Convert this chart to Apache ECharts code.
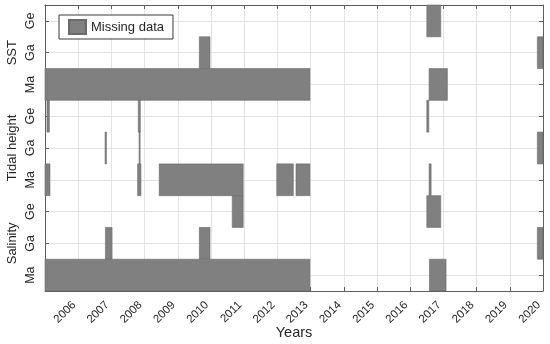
<!DOCTYPE html>
<html>
<head>
<meta charset="utf-8">
<script src="https://cdn.jsdelivr.net/npm/echarts@6/dist/echarts.min.js"></script>
<style>html,body{margin:0;padding:0;background:#fff}#c{width:550px;height:344px}</style>
</head>
<body>
<div id="c"></div>
<script>
// Row labels, top to bottom
const rowLabels = ['Ge', 'Ga', 'Ma', 'Ge', 'Ga', 'Ma', 'Ge', 'Ga', 'Ma'];
const rowGroups = ['SST', 'SST', 'SST', 'Tidal height', 'Tidal height', 'Tidal height', 'Salinity', 'Salinity', 'Salinity'];
const groupLabels = ['SST', 'Tidal height', 'Salinity'];
const yearTicks = [2006, 2007, 2008, 2009, 2010, 2011, 2012, 2013, 2014, 2015, 2016, 2017, 2018, 2019, 2020];
const xMin = 2005, xMax = 2020;

// Missing-data intervals [start, end] in decimal years, per row
const sstGe = [[2016.50, 2016.92]];
const sstGa = [[2009.65, 2009.97], [2019.83, 2020.00]];
const sstMa = [[2005.00, 2012.98], [2016.57, 2017.12]];
const tidalGe = [[2005.06, 2005.13], [2007.81, 2007.87], [2016.50, 2016.56]];
const tidalGa = [[2006.81, 2006.85], [2007.835, 2007.855], [2019.83, 2020.00]];
const tidalMa = [[2005.00, 2005.15], [2007.79, 2007.89], [2008.44, 2010.97], [2011.98, 2012.48], [2012.56, 2012.98], [2016.57, 2016.63]];
const salGe = [[2010.64, 2010.97], [2016.50, 2016.92]];
const salGa = [[2006.82, 2007.02], [2009.65, 2009.97], [2019.83, 2020.00]];
const salMa = [[2005.00, 2012.98], [2016.58, 2017.08]];

const rowsData = [sstGe, sstGa, sstMa, tidalGe, tidalGa, tidalMa, salGe, salGa, salMa];
const rowKeys = rowLabels.map((l, i) => rowGroups[i] + ' ' + l);
const data = [];
rowsData.forEach((intervals, i) => {
  intervals.forEach(iv => data.push([iv[0], iv[1], i]));
});

const FONT = "'Liberation Sans', Arial, Helvetica, sans-serif";
const TXT = '#262626';
const AX = '#5e5e5e';
const GRID = '#e3e3e3';

const chart = echarts.init(document.getElementById('c'), null, {renderer: 'canvas'});

const yBase = {type: 'category', data: rowKeys, inverse: true, boundaryGap: true};

chart.setOption({
  animation: false,
  backgroundColor: '#fff',
  textStyle: {fontFamily: FONT},
  grid: {left: 45, right: 7, top: 5, bottom: 53, containLabel: false, outerBoundsMode: 'none'},
  legend: {
    data: [{name: 'Missing data', icon: 'rect'}],
    left: 59, top: 15,
    padding: [4, 9, 4, 9],
    itemWidth: 17, itemHeight: 14, itemGap: 5,
    backgroundColor: '#fff', borderColor: '#3a3a3a', borderWidth: 1, borderRadius: 0,
    textStyle: {fontSize: 13, color: TXT, fontFamily: FONT}
  },
  xAxis: [
    {
      type: 'value', min: xMin, max: xMax, interval: 1,
      name: 'Years', nameLocation: 'middle', nameGap: 34, nameMoveOverlap: false,
      nameTextStyle: {fontSize: 14.5, color: TXT, fontFamily: FONT},
      axisLine: {show: true, lineStyle: {color: AX, width: 1}},
      axisTick: {show: true, inside: true, length: 4, lineStyle: {color: AX}},
      axisLabel: {
        show: true, rotate: 45, margin: 8, padding: [0, 6, 0, 0], fontSize: 11.5, color: TXT, fontFamily: FONT,
        showMinLabel: false, showMaxLabel: true,
        formatter: v => (yearTicks.indexOf(v) >= 0 ? String(v) : '')
      },
      splitLine: {show: true, lineStyle: {color: GRID, width: 1}}
    },
    {
      type: 'value', min: xMin, max: xMax, interval: 1, position: 'top',
      axisLine: {show: true, onZero: false, lineStyle: {color: AX, width: 1}},
      axisTick: {show: true, inside: true, length: 4, lineStyle: {color: AX}},
      axisLabel: {show: false},
      splitLine: {show: false}
    }
  ],
  yAxis: [
    Object.assign({}, yBase, {
      position: 'left',
      axisLine: {show: true, onZero: false, lineStyle: {color: AX, width: 1}},
      axisTick: {show: true, inside: true, length: 4, alignWithLabel: true, lineStyle: {color: AX}},
      axisLabel: {
        show: true, interval: 0, rotate: 90, margin: 8, fontSize: 12.5, color: TXT, fontFamily: FONT,
        formatter: (v, i) => rowLabels[i]
      },
      splitLine: {show: true, alignWithLabel: true, interval: 0, lineStyle: {color: GRID, width: 1}}
    }),
    Object.assign({}, yBase, {
      position: 'left',
      axisLine: {show: false},
      axisTick: {show: false},
      axisLabel: {
        show: true, interval: 0, rotate: 90, margin: 26, fontSize: 13, color: TXT, fontFamily: FONT,
        formatter: (v, i) => (i === 1 ? groupLabels[0] : i === 4 ? groupLabels[1] : i === 7 ? groupLabels[2] : '')
      },
      splitLine: {show: false}
    }),
    Object.assign({}, yBase, {
      position: 'right',
      axisLine: {show: true, onZero: false, lineStyle: {color: AX, width: 1}},
      axisTick: {show: true, inside: true, length: 4, alignWithLabel: true, lineStyle: {color: AX}},
      axisLabel: {show: false},
      splitLine: {show: false}
    })
  ],
  series: [{
    name: 'Missing data',
    type: 'custom',
    xAxisIndex: 0, yAxisIndex: 0,
    itemStyle: {color: '#808080', borderColor: '#6a6a6a', borderWidth: 0.6},
    encode: {x: [0, 1], y: 2},
    data: data,
    renderItem: function (params, api) {
      const p0 = api.coord([api.value(0), api.value(2)]);
      const p1 = api.coord([api.value(1), api.value(2)]);
      const h = api.size([0, 1])[1];
      return {
        type: 'rect',
        shape: {x: p0[0], y: p0[1] - h / 2, width: Math.max(p1[0] - p0[0], 1), height: h},
        style: {fill: '#808080', stroke: '#6a6a6a', lineWidth: 0.6}
      };
    }
  }]
});
</script>
</body>
</html>
